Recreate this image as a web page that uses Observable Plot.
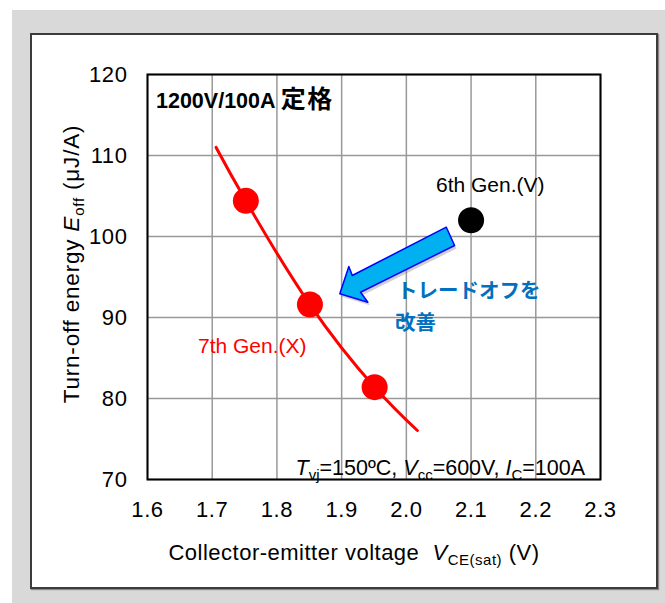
<!DOCTYPE html>
<html>
<head>
<meta charset="utf-8">
<script src="https://cdn.jsdelivr.net/npm/d3@7"></script>
<script src="https://cdn.jsdelivr.net/npm/@observablehq/plot@0.6"></script>
<style>
  html, body { margin: 0; padding: 0; background: white; }
  #wrap { position: relative; width: 665px; height: 603px; overflow: hidden; }
  #gray { position: absolute; left: 12px; top: 10px; width: 653px; height: 593px; background: #d9d9d9; }
  #panel { position: absolute; left: 30px; top: 33px; width: 628px; height: 556px; box-sizing: border-box;
           background: white; border: 2px solid #3c3c3c; box-shadow: 1px 1px 1px #888; }
  #chart { position: absolute; left: 0; top: 0; }
  #chart svg g[aria-label="x-axis tick label"] text,
  #chart svg g[aria-label="y-axis tick label"] text { letter-spacing: 0.6px; }
</style>
</head>
<body>
<div id="wrap">
  <div id="gray"></div>
  <div id="panel"></div>
  <div id="chart"></div>
</div>
<script>
// ---- data ----
const xTicks = [1.6, 1.7, 1.8, 1.9, 2.0, 2.1, 2.2, 2.3];
const yTicks = [70, 80, 90, 100, 110, 120];
const gen7X = [1.752, 1.851, 1.951];
const gen7Y = [104.4, 91.6, 81.4];
const curveX = [1.706, 1.752, 1.851, 1.951, 2.017];
const curveY = [111.0, 104.4, 91.6, 81.4, 76.05];
const gen6X = [2.10];
const gen6Y = [102.0];
const arrowX = [2.0617, 2.0745, 1.9292, 1.9405, 1.8972, 1.9111, 1.9164];
const arrowY = [101.15, 98.89, 93.12, 91.89, 92.93, 96.30, 95.19];

const gen7 = gen7X.map((x, i) => ({x, y: gen7Y[i]}));
const curve = curveX.map((x, i) => ({x, y: curveY[i]}));
const gen6 = gen6X.map((x, i) => ({x, y: gen6Y[i]}));
const arrow = arrowX.map((x, i) => ({x, y: arrowY[i]}));

const FONT = "'Liberation Sans', Arial, Helvetica, sans-serif";

const plot = Plot.plot({
  width: 665,
  height: 603,
  marginLeft: 147,
  marginRight: 65,
  marginTop: 74,
  marginBottom: 124,
  style: {background: "transparent", fontFamily: FONT, fontSize: "22px", color: "black"},
  x: {domain: [1.6, 2.3], label: null},
  y: {domain: [70, 120], label: null},
  marks: [
    Plot.gridX(xTicks, {stroke: "#999999", strokeOpacity: 1, strokeWidth: 1.5}),
    Plot.gridY(yTicks, {stroke: "#999999", strokeOpacity: 1, strokeWidth: 1.5}),
    Plot.axisX(xTicks, {tickSize: 0, tickPadding: 22, fontSize: 22, tickFormat: d => d.toFixed(1), label: null}),
    Plot.axisY(yTicks, {tickSize: 0, tickPadding: 20, fontSize: 22, label: null}),
    Plot.frame({stroke: "black", strokeWidth: 2}),
    Plot.line(curve, {x: "x", y: "y", stroke: "#ff0000", strokeWidth: 3, curve: "natural"}),
    Plot.dot(gen7, {x: "x", y: "y", r: 13, fill: "#ff0000", stroke: "none"}),
    Plot.dot(gen6, {x: "x", y: "y", r: 13, fill: "black", stroke: "none"}),
    Plot.line(arrow, {x: "x", y: "y", curve: "linear-closed", fill: "#777", fillOpacity: 0.35, stroke: "none", dx: 2, dy: 3}),
    Plot.line(arrow, {x: "x", y: "y", curve: "linear-closed", fill: "#00b0f0", stroke: "#0000ff", strokeWidth: 1.5})
  ]
});
document.getElementById("chart").appendChild(plot);

// ---- rich text labels ----
const svg = d3.select(plot);
function rich(x, y, anchor, parts, opts = {}) {
  const t = svg.append("text")
    .attr("x", x).attr("y", y)
    .attr("text-anchor", anchor)
    .attr("font-family", opts.family || FONT)
    .attr("font-size", opts.size || 21)
    .attr("fill", opts.fill || "black")
    .attr("font-weight", opts.weight || "normal");
  if (opts.spacing) t.attr("letter-spacing", opts.spacing);
  if (opts.rotate) t.attr("transform", `rotate(${opts.rotate} ${x} ${y})`);
  let shifted = 0;
  for (const p of parts) {
    const s = t.append("tspan").text(p.t);
    if (p.italic) s.attr("font-style", "italic");
    if (p.family) s.attr("font-family", p.family);
    if (p.spacing) s.attr("letter-spacing", p.spacing);
    if (p.sub) {
      s.attr("font-size", p.size || 15).attr("dy", 5 - shifted);
      shifted = 5;
    } else {
      if (shifted) s.attr("dy", -shifted);
      shifted = 0;
      if (p.size) s.attr("font-size", p.size);
    }
  }
  return t;
}

const CJK = "'Noto Sans CJK JP', 'Noto Sans', sans-serif";

rich(156, 108, "start", [{t: "1200V/100A "}, {t: "定格", family: CJK, size: 25, spacing: 1.5}], {weight: "bold", size: 21.5});
rich(436, 192, "start", [{t: "6th Gen.(V)"}]);
rich(198, 353, "start", [{t: "7th Gen.(X)"}], {fill: "#ff0000"});
rich(397, 298, "start", [{t: "トレードオフを"}], {family: CJK, weight: "bold", fill: "#0070c0", size: 20.5});
rich(395, 330, "start", [{t: "改善"}], {family: CJK, weight: "bold", fill: "#0070c0", size: 20.5});
rich(585, 475, "end", [
  {t: "T", italic: true}, {t: "vj", sub: true}, {t: "=150ºC, "},
  {t: "V", italic: true}, {t: "cc", sub: true}, {t: "=600V, "},
  {t: "I", italic: true}, {t: "C", sub: true}, {t: "=100A"}
], {size: 21.5});
rich(354, 560, "middle", [
  {t: "Collector-emitter voltage  "}, {t: "V", italic: true}, {t: "CE(sat)", sub: true}, {t: " (V)"}
], {size: 22, spacing: 0.5});
rich(79, 264, "middle", [
  {t: "Turn-off energy "}, {t: "E", italic: true}, {t: "off", sub: true}, {t: " (μJ/A)"}
], {rotate: -90, size: 22.5, spacing: 0.8});
</script>
</body>
</html>
